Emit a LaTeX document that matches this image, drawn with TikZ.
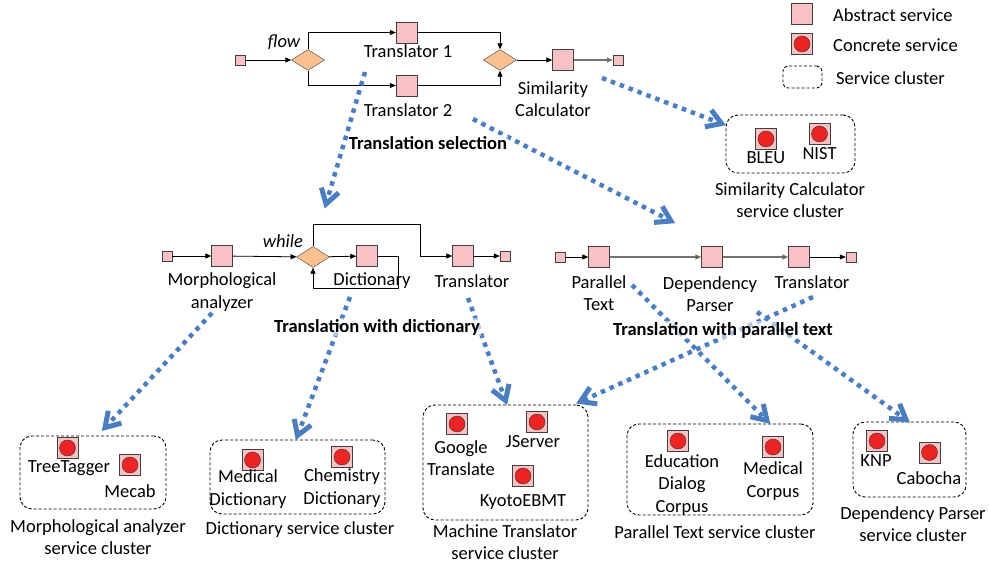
\documentclass[tikz,border=0pt]{standalone}
\usepackage{fontspec}
\setmainfont{Carlito}
\usetikzlibrary{arrows.meta,shapes.geometric,positioning,calc}

\definecolor{absfill}{RGB}{248,193,196}
\definecolor{gatefill}{RGB}{250,192,144}
\definecolor{concred}{RGB}{237,36,36}
\definecolor{svcblue}{RGB}{74,126,193}
\definecolor{edgegray}{RGB}{64,64,64}

\tikzset{
    abs/.style={draw=edgegray, fill=absfill, minimum size=21pt, inner sep=0pt},
    term/.style={abs, minimum size=10pt},
    gate/.style={diamond, draw=edgegray, fill=gatefill, minimum width=33pt, minimum height=21pt, inner sep=0pt},
    conc/.style={abs, path picture={\draw[black!80, fill=concred] (path picture bounding box.center) circle (8pt);}},
    cluster/.style={draw=black, line width=0.9pt, dash pattern=on 3pt off 2pt, rounded corners=12pt, inner sep=0pt},
    flow/.style={draw=black, line width=0.8pt, -{Triangle[length=6pt,width=5pt]}},
    flowg/.style={flow, draw=black!55, line width=1.3pt},
    svc/.style={draw=svcblue, line width=4.5pt, dash pattern=on 4.5pt off 5pt, shorten >=5pt},
    svchead/.style={draw=svcblue, line width=5pt, solid, line join=miter},
    txt/.style={inner sep=1pt, align=center},
    title/.style={txt, font=\fontsize{18.5}{22.5}\selectfont\bfseries, fill=white, fill opacity=0.55, text opacity=1}
}

\begin{document}
\begin{tikzpicture}[
        x=1pt, y=-1pt,
        font=\fontsize{18.5}{22.5}\selectfont,
        node distance=2cm
        ]
        \useasboundingbox (0,0) rectangle (989,564);

        % legend
        \node (legabs) [abs] at (802,14) {};
        \node (legconc) [conc, below of=legabs, node distance=30pt] {};
        \node (legclu) [cluster, minimum width=39pt, minimum height=22pt, rounded corners=5pt] at (802.5,77) {};
        \node (legabstxt) [txt, anchor=west] at (832,15) {Abstract service};
        \node (legconctxt) [txt, anchor=west] at (832,45) {Concrete service};
        \node (legclutxt) [txt, anchor=west] at (835,78) {Service cluster};

        % translation selection
        \node (start) [term] at (240,60) {};
        \node (split) [gate] at (308,60) {};
        \node (tr1) [abs] at (406.5,32.5) {};
        \node (tr2) [abs, below of=tr1, node distance=53pt] {};
        \node (join) [gate] at (500,60) {};
        \node (sim) [abs, right of=join, node distance=63pt] {};
        \node (stop) [term, right of=sim, node distance=55pt] {};
        \node (flowtxt) [txt] at (284,42) {\itshape flow};
        \node (tr1txt) [txt] at (408,51.5) {Translator 1};
        \node (tr2txt) [txt] at (408,110) {Translator 2};
        \node (simtxt) [txt] at (553,99) {Similarity\\Calculator};

        \path[flow]
        (start)     edge        (split)
        (join)      edge        (sim)
        ;
        \draw[flow] (split.north) |- (tr1);
        \draw[flow] (split.south) |- (tr2);
        \draw[flow] (tr1) -| (join.north);
        \draw[flow] (tr2) -| (join.south);
        \draw[flowg] (sim) -- (stop);

        % translation with dictionary
        \node (mstart) [term] at (167,256) {};
        \node (morph) [abs, right of=mstart, node distance=55pt] {};
        \node (wh) [gate] at (313,257) {};
        \node (dict) [abs] at (367,256) {};
        \node (mt1) [abs] at (463,256) {};
        \node (mstop) [term, right of=mt1, node distance=42pt] {};
        \node (morphtxt) [txt] at (222,292) {Morphological\\analyzer};
        \node (whtxt) [txt] at (283,241) {\itshape while};
        \node (dicttxt) [txt] at (372,281) {Dictionary};
        \node (mt1txt) [txt] at (472,281) {Translator};

        \path[flow]
        (mstart)    edge        (morph)
        (morph)     edge        (wh)
        (wh)        edge        (dict)
        (mt1)       edge        (mstop)
        ;
        \draw[flow] (dict.east) -| ++(21,32) -| (wh.south);
        \draw[flow] (wh.north) |- ++(107,-22) |- (mt1);

        % translation with parallel text
        \node (pstart) [term] at (560,257) {};
        \node (ptext) [abs] at (599,257) {};
        \node (dep) [abs, right of=ptext, node distance=113pt] {};
        \node (mt2) [abs, right of=dep, node distance=87pt] {};
        \node (pstop) [term, right of=mt2, node distance=52pt] {};
        \node (ptexttxt) [txt] at (599,293) {Parallel\\Text};
        \node (deptxt) [txt] at (710,294) {Dependency\\Parser};
        \node (mt2txt) [txt] at (812,282) {Translator};

        \path[flow]
        (pstart)    edge        (ptext)
        (mt2)       edge        (pstop)
        ;
        \path[flowg]
        (ptext)     edge        (dep)
        (dep)       edge        (mt2)
        ;

        % service clusters
        \node (simc) [cluster, minimum width=129pt, minimum height=58pt] at (790.5,144) {};
        \node (bleu) [conc] at (766,139) {};
        \node (nist) [conc] at (819.5,134) {};
        \node (bleutxt) [txt] at (766,158) {BLEU};
        \node (nisttxt) [txt] at (819.5,154) {NIST};
        \node (simctxt) [txt] at (790,200) {Similarity Calculator\\service cluster};

        \node (morphc) [cluster, minimum width=146pt, minimum height=73pt] at (93,472.5) {};
        \node (tagger) [conc] at (67.5,448) {};
        \node (mecab) [conc] at (130,465) {};
        \node (taggertxt) [txt] at (69,468) {TreeTagger};
        \node (mecabtxt) [txt] at (130,491) {Mecab};
        \node (morphctxt) [txt] at (98,537) {Morphological analyzer\\service cluster};

        \node (dictc) [cluster, minimum width=175pt, minimum height=74pt] at (297.5,477) {};
        \node (meddict) [conc] at (252.5,460) {};
        \node (chemdict) [conc] at (342,457) {};
        \node (meddicttxt) [txt] at (248,489) {Medical\\Dictionary};
        \node (chemdicttxt) [txt] at (342,488) {Chemistry\\Dictionary};
        \node (dictctxt) [txt] at (300,530) {Dictionary service cluster};

        \node (mtc) [cluster, minimum width=165pt, minimum height=115pt] at (505.5,462.5) {};
        \node (google) [conc] at (457,424) {};
        \node (jserver) [conc] at (537,422) {};
        \node (kyoto) [conc] at (523,476) {};
        \node (googletxt) [txt] at (461,458) {Google\\Translate};
        \node (jservertxt) [txt] at (533,442) {JServer};
        \node (kyototxt) [txt] at (523,502) {KyotoEBMT};
        \node (mtctxt) [txt] at (505,542) {Machine Translator\\service cluster};

        \node (ptc) [cluster, minimum width=186pt, minimum height=91pt] at (720,469.5) {};
        \node (educ) [conc] at (678,441) {};
        \node (medcorp) [conc] at (773,447) {};
        \node (eductxt) [txt] at (682,485) {Education\\Dialog\\Corpus};
        \node (medcorptxt) [txt] at (773,481) {Medical\\Corpus};
        \node (ptctxt) [txt] at (715,532) {Parallel Text service cluster};

        \node (dpc) [cluster, minimum width=113pt, minimum height=75pt] at (909.5,459.5) {};
        \node (knp) [conc] at (877,441) {};
        \node (cabocha) [conc] at (929.5,452.5) {};
        \node (knptxt) [txt] at (876,461) {KNP};
        \node (cabochatxt) [txt] at (929,478) {Cabocha};
        \node (dpctxt) [txt] at (913,524) {Dependency Parser\\service cluster};

        % ends of the selection arrows
        \coordinate (seldict) at (365,72);
        \coordinate (seldicttip) at (326,204);
        \coordinate (selpar) at (473,119);
        \coordinate (selpartip) at (671,221);
        \coordinate (selsim) at (602,78);
        \coordinate (selsimtip) at ([xshift=-4pt,yshift=-9pt]simc.north west);
        \coordinate (selmorph) at (212,313);
        \coordinate (selmorphtip) at ([xshift=12pt,yshift=8pt]morphc.north);
        \coordinate (seldictsvc) at (350,297);
        \coordinate (seldictsvctip) at ([yshift=4pt]dictc.north);
        \coordinate (selmt1) at (468,298);
        \coordinate (selmt1tip) at ([yshift=4pt]mtc.north);
        \coordinate (selmt2) at (813,297);
        \coordinate (selmt2tip) at ([xshift=-8pt,yshift=3pt]mtc.north east);
        \coordinate (selptext) at (632,285);
        \coordinate (selptexttip) at ([xshift=47pt,yshift=3pt]ptc.north);
        \coordinate (seldep) at (757,312);
        \coordinate (seldeptip) at ([xshift=-3.5pt,yshift=2pt]dpc.north);

        % arrows from abstract services to their clusters
        \foreach \from in {seldict,selpar,selsim,selmorph,seldictsvc,selmt1,selmt2,selptext,seldep}{
            \draw[svc] (\from) -- (\from tip);
            \draw[svchead] ($(\from tip)!17pt!32:(\from)$) -- (\from tip) -- ($(\from tip)!17pt!-32:(\from)$);
        }

        % workflow titles
        \node (seltitle) [title] at (428,143) {Translation selection};
        \node (dicttitle) [title] at (377,327) {Translation with dictionary};
        \node (partitle) [title] at (723,330) {Translation with parallel text};
    \end{tikzpicture}
\end{document}
